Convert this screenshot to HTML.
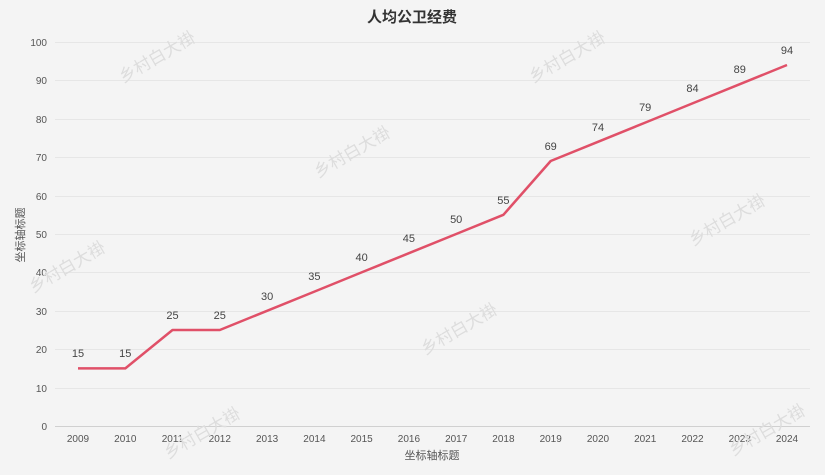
<!DOCTYPE html><html><head><meta charset="utf-8"><style>body{margin:0;background:#f4f4f4}svg{display:block}text{font-family:"Liberation Sans","Noto Sans CJK SC",sans-serif}</style></head><body>
<svg width="825" height="475" viewBox="0 0 825 475">
<rect width="825" height="475" fill="#f4f4f4"/>
<text x="412" y="22" text-anchor="middle" font-size="15" font-weight="bold" fill="#333">人均公卫经费</text>
<g stroke="#e6e6e6" stroke-width="1">
<line x1="55" x2="810" y1="42.5" y2="42.5"/><line x1="55" x2="810" y1="80.5" y2="80.5"/><line x1="55" x2="810" y1="119.5" y2="119.5"/><line x1="55" x2="810" y1="157.5" y2="157.5"/><line x1="55" x2="810" y1="196.5" y2="196.5"/><line x1="55" x2="810" y1="234.5" y2="234.5"/><line x1="55" x2="810" y1="272.5" y2="272.5"/><line x1="55" x2="810" y1="311.5" y2="311.5"/><line x1="55" x2="810" y1="349.5" y2="349.5"/><line x1="55" x2="810" y1="388.5" y2="388.5"/></g>
<line x1="55" x2="810" y1="426.5" y2="426.5" stroke="#d0d0d0"/>
<g font-size="10" fill="#555" text-anchor="end">
<text x="47" y="46">100</text><text x="47" y="84">90</text><text x="47" y="123">80</text><text x="47" y="161">70</text><text x="47" y="200">60</text><text x="47" y="238">50</text><text x="47" y="276">40</text><text x="47" y="315">30</text><text x="47" y="353">20</text><text x="47" y="392">10</text><text x="47" y="430">0</text></g>
<g font-size="10" fill="#555" text-anchor="middle">
<text x="78" y="442">2009</text><text x="125.3" y="442">2010</text><text x="172.5" y="442">2011</text><text x="219.8" y="442">2012</text><text x="267.1" y="442">2013</text><text x="314.4" y="442">2014</text><text x="361.6" y="442">2015</text><text x="408.9" y="442">2016</text><text x="456.2" y="442">2017</text><text x="503.4" y="442">2018</text><text x="550.7" y="442">2019</text><text x="598" y="442">2020</text><text x="645.2" y="442">2021</text><text x="692.5" y="442">2022</text><text x="739.8" y="442">2023</text><text x="787" y="442">2024</text></g>
<text x="432" y="459" font-size="11" fill="#555" text-anchor="middle">坐标轴标题</text>
<text transform="translate(24,235) rotate(-90)" font-size="11" fill="#555" text-anchor="middle">坐标轴标题</text>
<g font-size="17" fill="#ddd" text-anchor="middle">
<text transform="translate(160,62) rotate(-30)">乡村白大褂</text>
<text transform="translate(570,62) rotate(-30)">乡村白大褂</text>
<text transform="translate(355,157) rotate(-30)">乡村白大褂</text>
<text transform="translate(730,225) rotate(-30)">乡村白大褂</text>
<text transform="translate(70,272) rotate(-30)">乡村白大褂</text>
<text transform="translate(462,334) rotate(-30)">乡村白大褂</text>
<text transform="translate(205,438) rotate(-30)">乡村白大褂</text>
<text transform="translate(770,435) rotate(-30)">乡村白大褂</text></g>
<polyline fill="none" stroke="#e05068" stroke-width="2.5" stroke-linejoin="round" points="78,368.4 125.3,368.4 172.5,330 219.8,330 267.1,310.8 314.4,291.6 361.6,272.4 408.9,253.2 456.2,234 503.4,214.8 550.7,161 598,141.8 645.2,122.6 692.5,103.4 739.8,84.2 787,65"/>
<g font-size="11" fill="#444" text-anchor="middle">
<text x="78" y="357">15</text><text x="125.3" y="357">15</text><text x="172.5" y="319">25</text><text x="219.8" y="319">25</text><text x="267.1" y="300">30</text><text x="314.4" y="280">35</text><text x="361.6" y="261">40</text><text x="408.9" y="242">45</text><text x="456.2" y="223">50</text><text x="503.4" y="204">55</text><text x="550.7" y="150">69</text><text x="598" y="131">74</text><text x="645.2" y="111">79</text><text x="692.5" y="92">84</text><text x="739.8" y="73">89</text><text x="787" y="54">94</text></g>
</svg></body></html>
